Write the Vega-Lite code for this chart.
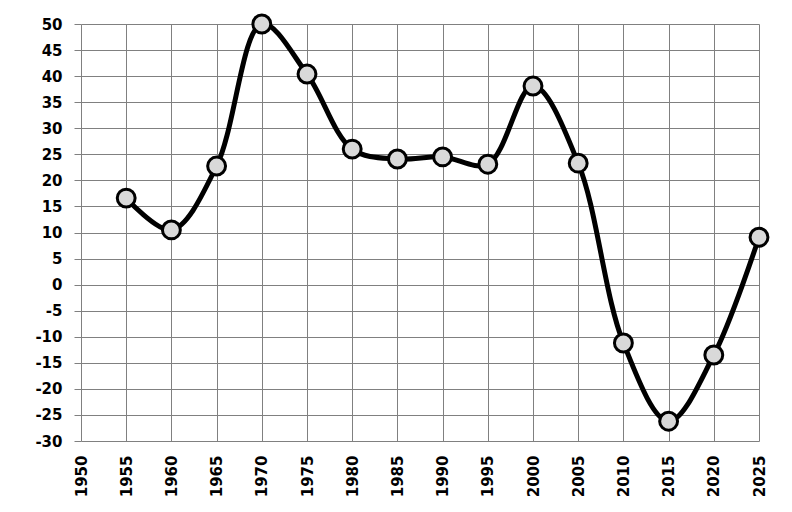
{
  "$schema": "https://vega.github.io/schema/vega-lite/v6.json",
  "width": 678,
  "height": 417,
  "autosize": "none",
  "padding": {"left": 81, "top": 24, "right": 33, "bottom": 71},
  "background": "white",
  "data": {
    "values": [
      {"year": 1955, "value": 16.6},
      {"year": 1960, "value": 10.5},
      {"year": 1965, "value": 22.75},
      {"year": 1970, "value": 50.0},
      {"year": 1975, "value": 40.4},
      {"year": 1980, "value": 26.0},
      {"year": 1985, "value": 24.1},
      {"year": 1990, "value": 24.5},
      {"year": 1995, "value": 23.1},
      {"year": 2000, "value": 38.1},
      {"year": 2005, "value": 23.3},
      {"year": 2010, "value": -11.2},
      {"year": 2015, "value": -26.2},
      {"year": 2020, "value": -13.5},
      {"year": 2025, "value": 9.1}
    ]
  },
  "config": {
    "view": {"stroke": null},
    "axis": {
      "labelFont": "DejaVu Sans",
      "labelFontWeight": "bold",
      "labelFontSize": 15,
      "labelColor": "black",
      "gridColor": "#808080",
      "gridWidth": 1,
      "gridOpacity": 1,
      "domain": false,
      "tickColor": "#808080",
      "title": null
    }
  },
  "encoding": {
    "x": {
      "field": "year",
      "type": "quantitative",
      "scale": {"domain": [1950, 2025], "nice": false, "zero": false},
      "axis": {
        "values": [1950, 1955, 1960, 1965, 1970, 1975, 1980, 1985, 1990, 1995, 2000, 2005, 2010, 2015, 2020, 2025],
        "labelExpr": "datum.value + ''",
        "labelAngle": -90,
        "labelAlign": "right",
        "labelBaseline": "middle",
        "ticks": false,
        "labelPadding": 14,
        "labelOverlap": false,
        "labelFlush": false
      }
    },
    "y": {
      "field": "value",
      "type": "quantitative",
      "scale": {"domain": [-30, 50], "nice": false, "zero": false},
      "axis": {
        "values": [-30, -25, -20, -15, -10, -5, 0, 5, 10, 15, 20, 25, 30, 35, 40, 45, 50],
        "labelExpr": "datum.value + ''",
        "tickSize": 7,
        "labelPadding": 12,
        "labelOverlap": false,
        "labelFlush": false
      }
    }
  },
  "layer": [
    {"mark": {"type": "line", "interpolate": "catmull-rom", "color": "black", "strokeWidth": 5}},
    {"mark": {"type": "point", "filled": true, "fill": "#d9d9d9", "stroke": "black", "strokeWidth": 3, "size": 320, "opacity": 1}}
  ]
}
